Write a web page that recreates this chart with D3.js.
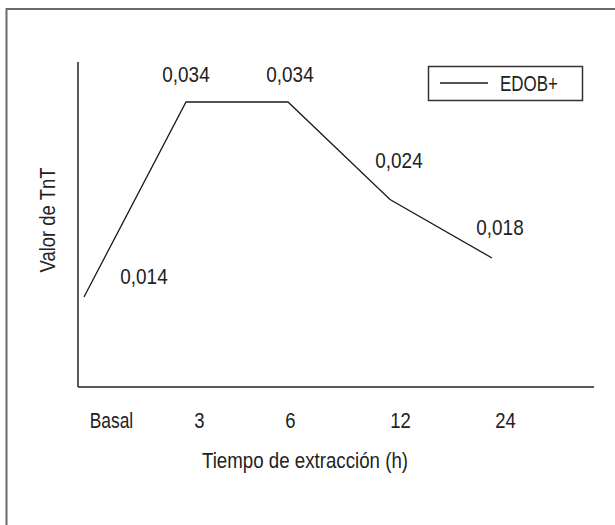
<!DOCTYPE html>
<html>
<head>
<meta charset="utf-8">
<script src="https://cdn.jsdelivr.net/npm/d3@7/dist/d3.min.js"></script>
<style>
  html, body { margin: 0; padding: 0; background: #fff; }
  svg { display: block; }
  text { font-family: "Liberation Sans", Arial, sans-serif; fill: #222; }
</style>
</head>
<body>
<svg id="chart" width="615" height="525"></svg>
<script>
// ---- data ----
const categories = ["Basal", "3", "6", "12", "24"];
const values = [0.014, 0.034, 0.034, 0.024, 0.018];
const valueLabels = ["0,014", "0,034", "0,034", "0,024", "0,018"];
const seriesName = "EDOB+";
const xTitle = "Tiempo de extracción (h)";
const yTitle = "Valor de TnT";

// ---- layout ----
const axisLeft = 78, axisBottom = 387, axisTop = 62, axisRight = 594;
const labelOffsets = [[60, -13], [0, -20], [2, -20], [9, -31], [8, -23]];
const tickLabelX = [111, 199, 290, 400, 505];
const FS = 22;

const svg = d3.select("#chart");

// outer frame (extends past right/bottom edge)
svg.append("rect")
  .attr("x", 6.5).attr("y", 9)
  .attr("width", 700).attr("height", 600)
  .attr("fill", "none").attr("stroke", "#6a6a6a").attr("stroke-width", 2);

const x = d3.scalePoint().domain(categories).range([84, 492]);
const y = d3.scaleLinear().domain([0.00477, 0.0381]).range([axisBottom, axisTop]);
const xLab = d3.scaleOrdinal().domain(categories).range(tickLabelX);

// axes lines
svg.append("line")
  .attr("x1", axisLeft).attr("x2", axisLeft)
  .attr("y1", y.range()[1]).attr("y2", y.range()[0])
  .attr("stroke", "#222").attr("stroke-width", 1.5);
svg.append("line")
  .attr("x1", axisLeft).attr("x2", axisRight)
  .attr("y1", axisBottom).attr("y2", axisBottom)
  .attr("stroke", "#222").attr("stroke-width", 1.5);

// x tick labels through axis
const xAxis = d3.axisBottom(xLab).tickValues(categories).tickSize(0).tickPadding(0);
const gx = svg.append("g").attr("transform", `translate(0, ${axisBottom})`).call(xAxis);
gx.select(".domain").remove();
gx.selectAll("text")
  .attr("dy", null).attr("y", 0)
  .attr("transform", d => `translate(0,41) scale(${d === "Basal" ? 0.79 : 0.84},1)`)
  .style("font-size", FS + "px")
  .style("font-family", "'Liberation Sans', Arial, sans-serif")
  .attr("fill", "#222");

// line
const line = d3.line().x((d, i) => x(categories[i])).y(d => y(d));
svg.append("path")
  .datum(values)
  .attr("d", line)
  .attr("fill", "none").attr("stroke", "#1a1a1a").attr("stroke-width", 1.3);

// value labels
svg.append("g").selectAll("text")
  .data(values)
  .join("text")
  .attr("transform", (d, i) =>
    `translate(${x(categories[i]) + labelOffsets[i][0]},${y(d) + labelOffsets[i][1]}) scale(0.86,1)`)
  .attr("text-anchor", "middle")
  .style("font-size", FS + "px")
  .text((d, i) => valueLabels[i]);

// axis titles
svg.append("text")
  .attr("transform", "translate(305,468) scale(0.85,1)")
  .attr("text-anchor", "middle")
  .style("font-size", FS + "px")
  .text(xTitle);
svg.append("text")
  .attr("transform", "translate(55,220) rotate(-90) scale(0.84,1)")
  .attr("text-anchor", "middle")
  .style("font-size", FS + "px")
  .text(yTitle);

// legend
const lg = svg.append("g");
lg.append("rect")
  .attr("x", 428.5).attr("y", 66.5).attr("width", 154).attr("height", 34)
  .attr("fill", "none").attr("stroke", "#333").attr("stroke-width", 1.5);
lg.append("line")
  .attr("x1", 440).attr("x2", 488).attr("y1", 83).attr("y2", 83)
  .attr("stroke", "#1a1a1a").attr("stroke-width", 1.3);
lg.append("text")
  .attr("transform", "translate(500,91) scale(0.77,1)")
  .style("font-size", FS + "px")
  .text(seriesName);
</script>
</body>
</html>
